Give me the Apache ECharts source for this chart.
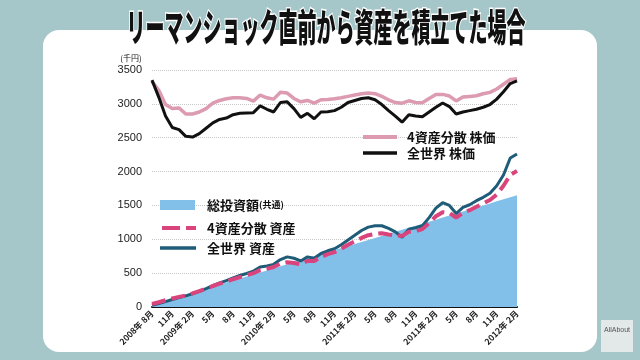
<!DOCTYPE html>
<html>
<head>
<meta charset="utf-8">
<script src="https://cdn.jsdelivr.net/npm/echarts@6/dist/echarts.min.js"></script>
<style>html,body{margin:0;padding:0;background:#a6c7c9;}#c{width:640px;height:360px;}</style>
</head>
<body>
<div id="c"></div>
<script>
// Tick labels (every 3 months), as printed in the reference
var tickLabels = ['2008年 8月','11月','2009年 2月','5月','8月','11月','2010年 2月','5月','8月','11月','2011年 2月','5月','8月','11月','2011年 2月','5月','8月','11月','2012年 2月'];

// Monthly values (千円)
var totalInvested = [30,60,90,120,150,180,210,240,270,300,330,360,390,420,450,480,510,540,570,600,630,660,690,720,750,780,810,840,870,900,930,960,990,1020,1050,1080,1110,1140,1170,1200,1230,1260,1290,1320,1350,1380,1410,1440,1470,1500,1530,1560,1590,1620,1650];
var worldAsset = [25,50,80,110,140,165,195,230,270,315,355,390,430,465,495,530,590,605,630,700,740,720,680,740,720,790,830,860,920,990,1060,1130,1180,1200,1200,1160,1110,1030,1150,1170,1200,1320,1460,1540,1500,1380,1470,1510,1570,1620,1680,1790,1950,2200,2260];
var balancedAsset = [45,70,100,125,150,170,200,235,270,310,345,375,410,440,470,500,545,565,590,640,660,650,630,680,680,740,780,810,860,920,970,1020,1060,1080,1090,1070,1060,1050,1110,1120,1150,1240,1340,1400,1390,1320,1390,1430,1480,1530,1580,1660,1790,1950,2010];
var balancedPrice = [3330,3200,2990,2930,2940,2850,2850,2880,2930,3010,3050,3075,3090,3090,3080,3040,3130,3090,3070,3170,3160,3080,3030,3050,3010,3060,3065,3075,3090,3110,3130,3150,3160,3150,3110,3060,3020,3010,3045,3020,3015,3080,3140,3140,3115,3043,3100,3110,3120,3150,3170,3220,3290,3360,3370];
var worldPrice = [3350,3100,2820,2650,2620,2520,2510,2560,2640,2720,2770,2790,2840,2860,2865,2870,2970,2920,2880,3020,3030,2930,2800,2860,2780,2880,2885,2900,2950,3020,3050,3080,3090,3060,2990,2900,2820,2730,2840,2820,2810,2880,2950,3013,2960,2850,2880,2900,2920,2950,2990,3070,3180,3300,3340];
var yTicks = [0,500,1000,1500,2000,2500,3000,3500];

var categories = totalInvested.map(function(v,i){return String(i);});

var jp = '"Noto Sans CJK JP", "Noto Sans", sans-serif';
var chart = echarts.init(document.getElementById('c'), null, {renderer:'canvas'});
var legTxt = {fontFamily: jp, fontWeight: 'bold', fontSize: 13, fill: '#111', textVerticalAlign: 'middle'};
function txt(x, y, t, extra){ var s = Object.assign({}, legTxt, {text: t}, extra||{}); return {type:'text', x:x, y:y, z:50, style:s}; }
function seg(x1, y, x2, color, w, dash){ return {type:'line', z:50, shape:{x1:x1,y1:y,x2:x2,y2:y}, style:{stroke:color, lineWidth:w, lineDash: dash||null}}; }

chart.setOption({
  animation: false,
  backgroundColor: '#a6c7c9',
  grid: {left: 152, right: 123, top: 70, bottom: 53, containLabel: false},
  xAxis: {
    type: 'category', data: categories, boundaryGap: false,
    axisLine: {show: true, lineStyle: {color: '#111', width: 2}},
    axisTick: {show: false},
    splitLine: {show: false},
    axisLabel: {
      interval: 2, rotate: 45, margin: 5,
      fontSize: 8.5, fontWeight: 'bold', color: '#222', fontFamily: jp,
      formatter: function(v, i){ return tickLabels[Math.round(i/3)] || ''; }
    }
  },
  yAxis: {
    type: 'value', min: yTicks[0], max: yTicks[yTicks.length-1], interval: 500,
    axisLine: {show: false}, axisTick: {show: false},
    axisLabel: {margin: 10, fontSize: 11, color: '#222', fontFamily: '"Liberation Sans", Arial, sans-serif',
      formatter: function(v){ return String(v); }},
    splitLine: {show: true, lineStyle: {color: '#c8c8c8', type: 'dotted', width: 1}}
  },
  series: [
    {name:'総投資額', type:'line', data: totalInvested, symbol:'none', z:1,
     lineStyle:{width:0}, areaStyle:{color:'#82c0ea', opacity:1}},
    {name:'全世界 資産', type:'line', data: worldAsset, symbol:'none', z:3,
     lineStyle:{color:'#1e5c78', width:3}},
    {name:'4資産分散 資産', type:'line', data: balancedAsset, symbol:'none', z:4,
     lineStyle:{color:'#d9447c', width:4, type:[14,6]}},
    {name:'4資産分散 株価', type:'line', data: balancedPrice, symbol:'none', z:5,
     lineStyle:{color:'#dc9bb0', width:3.5}},
    {name:'全世界 株価', type:'line', data: worldPrice, symbol:'none', z:6,
     lineStyle:{color:'#111', width:3}}
  ],
  graphic: [
    {type:'rect', z:-10, shape:{x:43, y:30, width:554, height:322, r:16}, style:{fill:'#ffffff'}},
    {type:'text', z:100, x:326, y:27, scaleX:0.5, style:{text:'リーマンショック直前から資産を積立てた場合', fontFamily: jp, fontWeight: 900, fontSize: 38, fill:'#111', stroke:'#ffffff', lineWidth:3, textAlign:'center', textVerticalAlign:'middle'}},
    txt(131, 58, '(千円)', {fontSize: 8, fontWeight:'normal', textAlign:'center'}),
    {type:'rect', z:50, shape:{x:160, y:200, width:35, height:10}, style:{fill:'#82c0ea'}},
    {type:'text', z:50, x:207, y:205, style:{text:'{a|総投資額}{b|(共通)}', textVerticalAlign:'middle', rich:{a:{fontFamily: jp, fontWeight:'bold', fontSize:13, fill:'#111'}, b:{fontFamily: jp, fontWeight:'bold', fontSize:9, fill:'#111'}}}},
    seg(162, 228, 196, '#d9447c', 4, [18,6]),
    txt(207, 228, '4資産分散 資産'),
    seg(160, 248, 196, '#1e5c78', 3.5),
    txt(207, 248, '全世界 資産'),
    seg(363, 137, 397, '#dc9bb0', 4),
    txt(407, 137, '4資産分散 株価'),
    seg(363, 153, 397, '#111', 3.5),
    txt(407, 153, '全世界 株価'),
    {type:'rect', z:50, shape:{x:601, y:320, width:32, height:32}, style:{fill:'#e3e8e8'}},
    txt(617, 330, 'AllAbout', {fontSize: 7, fontWeight:'normal', fill:'#555', textAlign:'center', fontFamily:'"Liberation Sans", sans-serif'})
  ]
});
</script>
</body>
</html>
